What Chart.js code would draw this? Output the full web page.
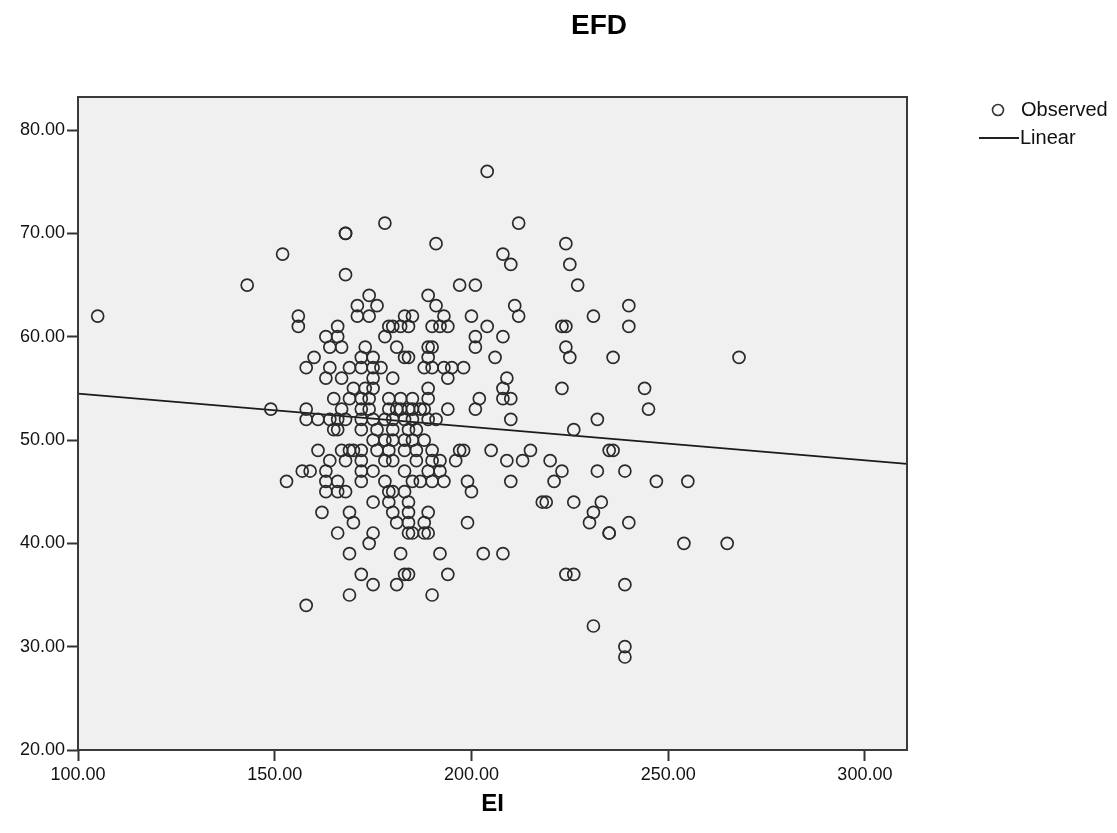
<!DOCTYPE html>
<html>
<head>
<meta charset="utf-8">
<title>EFD</title>
<script src="https://cdn.jsdelivr.net/npm/chart.js@4.4.0/dist/chart.umd.min.js"></script>
<style>
  html, body { margin: 0; padding: 0; background: #fff; }
  #wrap { width: 1117px; height: 833px; }
</style>
</head>
<body>
<div id="wrap"><canvas id="myChart" width="1117" height="833"></canvas></div>
<script>
// observed cases, one line per EFD level (ei = x, efd = y)
var ei = [
  204,
  178, 212,
  168, 168,
  191, 224,
  152, 208,
  210, 225,
  168,
  143, 197, 201, 227,
  174, 189,
  171, 176, 191, 211, 240,
  105, 156, 171, 174, 183, 185, 193, 200, 212, 231,
  156, 166, 179, 180, 182, 184, 190, 192, 194, 204, 223, 224, 240,
  163, 166, 178, 201, 208,
  164, 167, 173, 181, 189, 190, 201, 224,
  160, 172, 175, 183, 184, 189, 206, 225, 236, 268,
  158, 164, 169, 172, 175, 177, 188, 190, 193, 195, 198,
  163, 167, 175, 180, 194, 209,
  170, 173, 175, 189, 208, 223, 244,
  165, 169, 172, 174, 179, 182, 185, 189, 202, 208, 210,
  149, 158, 167, 172, 174, 179, 181, 182, 184, 185, 187, 188, 194, 201, 245,
  158, 161, 164, 166, 168, 172, 175, 178, 180, 183, 185, 189, 191, 210, 232,
  165, 166, 172, 176, 180, 184, 186, 226,
  175, 178, 180, 183, 185, 188,
  161, 167, 169, 170, 172, 176, 179, 183, 186, 190, 197, 198, 205, 215, 235, 236,
  164, 168, 172, 178, 180, 186, 190, 192, 196, 209, 213, 220,
  157, 159, 163, 172, 175, 183, 189, 192, 223, 232, 239,
  153, 163, 166, 172, 178, 185, 187, 190, 193, 199, 210, 221, 247, 255,
  163, 166, 168, 179, 180, 183, 200,
  175, 179, 184, 218, 219, 226, 233,
  162, 169, 180, 184, 189, 231,
  170, 181, 184, 188, 199, 230, 240,
  166, 175, 184, 185, 188, 189, 235, 235,
  174, 254, 265,
  169, 182, 192, 203, 208,
  172, 183, 184, 194, 224, 226,
  175, 181, 239,
  169, 190,
  158,
  231,
  239,
  239
];
var efd = [
  76,
  71, 71,
  70, 70,
  69, 69,
  68, 68,
  67, 67,
  66,
  65, 65, 65, 65,
  64, 64,
  63, 63, 63, 63, 63,
  62, 62, 62, 62, 62, 62, 62, 62, 62, 62,
  61, 61, 61, 61, 61, 61, 61, 61, 61, 61, 61, 61, 61,
  60, 60, 60, 60, 60,
  59, 59, 59, 59, 59, 59, 59, 59,
  58, 58, 58, 58, 58, 58, 58, 58, 58, 58,
  57, 57, 57, 57, 57, 57, 57, 57, 57, 57, 57,
  56, 56, 56, 56, 56, 56,
  55, 55, 55, 55, 55, 55, 55,
  54, 54, 54, 54, 54, 54, 54, 54, 54, 54, 54,
  53, 53, 53, 53, 53, 53, 53, 53, 53, 53, 53, 53, 53, 53, 53,
  52, 52, 52, 52, 52, 52, 52, 52, 52, 52, 52, 52, 52, 52, 52,
  51, 51, 51, 51, 51, 51, 51, 51,
  50, 50, 50, 50, 50, 50,
  49, 49, 49, 49, 49, 49, 49, 49, 49, 49, 49, 49, 49, 49, 49, 49,
  48, 48, 48, 48, 48, 48, 48, 48, 48, 48, 48, 48,
  47, 47, 47, 47, 47, 47, 47, 47, 47, 47, 47,
  46, 46, 46, 46, 46, 46, 46, 46, 46, 46, 46, 46, 46, 46,
  45, 45, 45, 45, 45, 45, 45,
  44, 44, 44, 44, 44, 44, 44,
  43, 43, 43, 43, 43, 43,
  42, 42, 42, 42, 42, 42, 42,
  41, 41, 41, 41, 41, 41, 41, 41,
  40, 40, 40,
  39, 39, 39, 39, 39,
  37, 37, 37, 37, 37, 37,
  36, 36, 36,
  35, 35,
  34,
  32,
  30,
  29
];

// fitted line, read at both ends of the x range
var fitEI = [100, 310.7];
var fitEFD = [54.5, 47.7];

var xTicks = [100, 150, 200, 250, 300];
var yTicks = [20, 30, 40, 50, 60, 70, 80];

var chartTitle = 'EFD';
var xTitle = 'EI';
var legendLabels = ['Observed', 'Linear'];

Chart.defaults.font.family = '"Liberation Sans", Arial, sans-serif';

var observed = ei.map(function(v, i) { return {x: v, y: efd[i]}; });
var fitted = fitEI.map(function(v, i) { return {x: v, y: fitEFD[i]}; });

// grey plot background and dark frame, plus title and legend like SPSS draws them
var spssFrame = {
  id: 'spssFrame',
  beforeDraw: function(chart) {
    var a = chart.chartArea, ctx = chart.ctx;
    ctx.save();
    ctx.fillStyle = '#f0f0f0';
    ctx.fillRect(a.left, a.top, a.right - a.left, a.bottom - a.top);
    ctx.restore();
  },
  afterDraw: function(chart) {
    var a = chart.chartArea, ctx = chart.ctx;
    ctx.save();
    ctx.strokeStyle = '#3a3a3a';
    ctx.lineWidth = 2;
    ctx.strokeRect(a.left, a.top, a.right - a.left, a.bottom - a.top);

    ctx.fillStyle = '#000';
    ctx.font = 'bold 28px "Liberation Sans", Arial, sans-serif';
    ctx.textAlign = 'center';
    ctx.textBaseline = 'middle';
    ctx.fillText(chartTitle, 599, 26);

    // legend
    ctx.font = '20px "Liberation Sans", Arial, sans-serif';
    ctx.textAlign = 'left';
    ctx.fillStyle = '#111';
    ctx.strokeStyle = '#333';
    ctx.lineWidth = 1.6;
    ctx.beginPath();
    ctx.arc(998, 110, 5.5, 0, Math.PI * 2);
    ctx.stroke();
    ctx.fillText(legendLabels[0], 1021, 110);
    ctx.strokeStyle = '#222';
    ctx.lineWidth = 2;
    ctx.beginPath();
    ctx.moveTo(979, 138);
    ctx.lineTo(1019, 138);
    ctx.stroke();
    ctx.fillText(legendLabels[1], 1020, 138);
    ctx.restore();
  }
};

var ctx = document.getElementById('myChart');
var myChart = new Chart(ctx, {
  type: 'scatter',
  data: {
    datasets: [
      {
        label: legendLabels[0],
        data: observed,
        pointStyle: 'circle',
        pointRadius: 6,
        pointBorderWidth: 1.7,
        pointBorderColor: '#2a2a2a',
        pointBackgroundColor: 'rgba(0,0,0,0)'
      },
      {
        label: legendLabels[1],
        type: 'line',
        data: fitted,
        showLine: true,
        pointRadius: 0,
        borderColor: '#1a1a1a',
        borderWidth: 1.8,
        fill: false
      }
    ]
  },
  options: {
    responsive: false,
    devicePixelRatio: 1,
    animation: false,
    events: [],
    layout: { padding: { top: 97, right: 210, bottom: 0, left: 0 } },
    plugins: {
      legend: { display: false },
      title: { display: false },
      tooltip: { enabled: false }
    },
    scales: {
      x: {
        type: 'linear',
        min: 100,
        max: 310.7,
        afterBuildTicks: function(scale) {
          scale.ticks = xTicks.map(function(v) { return {value: v}; });
        },
        afterFit: function(scale) { scale.height = 83; },
        ticks: {
          autoSkip: false,
          maxRotation: 0,
          padding: 3,
          color: '#111',
          font: { size: 18 },
          callback: function(v) { return Number(v).toFixed(2); }
        },
        grid: { drawOnChartArea: false, drawTicks: true, tickLength: 11, tickColor: '#333', tickWidth: 2 },
        border: { display: false },
        title: {
          display: true,
          text: xTitle,
          color: '#000',
          font: { size: 24, weight: 'bold' },
          padding: { top: 0, bottom: 14 }
        }
      },
      y: {
        type: 'linear',
        min: 20,
        max: 83.2,
        afterBuildTicks: function(scale) {
          scale.ticks = yTicks.map(function(v) { return {value: v}; });
        },
        afterFit: function(scale) { scale.width = 78; },
        ticks: {
          autoSkip: false,
          padding: 2,
          color: '#111',
          font: { size: 18 },
          callback: function(v) { return Number(v).toFixed(2); }
        },
        grid: { drawOnChartArea: false, drawTicks: true, tickLength: 11, tickColor: '#333', tickWidth: 2 },
        border: { display: false }
      }
    }
  },
  plugins: [spssFrame]
});
</script>
</body>
</html>
